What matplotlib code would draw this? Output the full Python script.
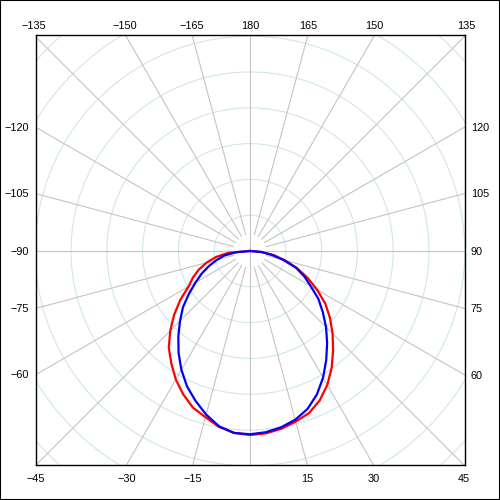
import numpy as np
import matplotlib.pyplot as plt
from matplotlib.patches import Circle, Rectangle

# angles (deg) measured from straight down, positive to the right
ANGLES = [-90, -85, -80, -75, -70, -65, -60, -55, -50, -45, -40, -35, -30,
          -25, -20, -15, -10, -5, 0, 5, 10, 15, 20, 25, 30, 35, 40, 45, 50,
          55, 60, 65, 70, 75, 80, 85, 90]

# intensities (arbitrary units, ring step = 35.8)
RED = [0, 22, 34.5, 45, 54.5, 63, 71, 85, 99, 112.8, 126.3, 137.2, 148.4,
       158.1, 166.7, 172.1, 178.6, 182.6, 184, 183, 180.5, 176.6, 172.5,
       164.9, 154.6, 142.4, 129.3, 116.8, 104.5, 92, 77.5, 63.5, 50, 36.5,
       24.5, 12, 0]
BLUE = [0, 14, 26, 34.3, 43.5, 53.2, 62.8, 74.5, 87.5, 99, 111.5, 124.5,
        137.2, 149.2, 159.4, 169.4, 178, 182.6, 183.3, 181.9, 179, 174.7,
        168.1, 158.3, 146.2, 132.9, 120, 107.5, 95, 83.5, 70, 59.8, 49, 34.3,
        22, 11, 0]

RING_STEP = 35.8
N_RINGS = 8
SPOKES = list(range(-165, 181, 15))

TOP_LABELS = [-135, -150, -165, 180, 165, 150, 135]
LEFT_LABELS = [-120, -105, -90, -75, -60]
BOTTOM_LABELS = [-45, -30, -15, 15, 30, 45]
RIGHT_LABELS = [120, 105, 90, 75, 60]


def to_xy(theta_deg, r):
    t = np.radians(np.asarray(theta_deg, dtype=float))
    r = np.asarray(r, dtype=float)
    return r * np.sin(t), -r * np.cos(t)


fig = plt.figure(figsize=(5, 5), dpi=100)
ax = fig.add_axes([36 / 500, 35 / 500, 429 / 500, 430 / 500])
ax.set_xlim(-214, 215)
ax.set_ylim(-214, 216)
ax.set_xticks([])
ax.set_yticks([])
for s in ax.spines.values():
    s.set_linewidth(1.0)
    s.set_color("black")

# rings
for k in range(1, N_RINGS + 1):
    ax.add_patch(Circle((0, 0), k * RING_STEP, fill=False,
                        edgecolor="#cfe6ec", linewidth=0.8, zorder=1))

# spokes (only the four main axes run through the centre)
for a in SPOKES:
    r0 = 0 if a % 90 == 0 else 17
    x, y = to_xy([a, a], [r0, 400])
    ax.plot(x, y, color="#c4c4c4", linewidth=0.8, zorder=2)

# curves
xr, yr = to_xy(ANGLES, RED)
ax.plot(xr, yr, color="#ff0000", linewidth=1.6, zorder=3)
xb, yb = to_xy(ANGLES, BLUE)
ax.plot(xb, yb, color="#0000ff", linewidth=1.6, zorder=4)


def lab(a):
    return str(a).replace("-", "\u2212")


font = dict(family="Liberation Sans", fontsize=7.8, color="black")
for a in TOP_LABELS:
    x = -216 * np.tan(np.radians(a))
    ax.annotate(lab(a), xy=(x, 216), xytext=(0, 4), textcoords="offset points",
                ha="center", va="baseline", annotation_clip=False, **font)
for a in BOTTOM_LABELS:
    x = 214 * np.tan(np.radians(a))
    ax.annotate(lab(a), xy=(x, -214), xytext=(0, -12), textcoords="offset points",
                ha="center", va="baseline", annotation_clip=False, **font)
for a in LEFT_LABELS:
    y = 214 / np.tan(np.radians(a))
    ax.annotate(lab(a), xy=(-214, y), xytext=(-4.8, -2.7), textcoords="offset points",
                ha="right", va="baseline", annotation_clip=False, **font)
for a in RIGHT_LABELS:
    y = -215 / np.tan(np.radians(a))
    ax.annotate(lab(a), xy=(215, y), xytext=(4.3, -2.7), textcoords="offset points",
                ha="left", va="baseline", annotation_clip=False, **font)

fig.patches.append(Rectangle((0, 0), 1, 1, transform=fig.transFigure,
                             fill=False, edgecolor="black", linewidth=1.5))

fig.savefig("out.png", dpi=100)
